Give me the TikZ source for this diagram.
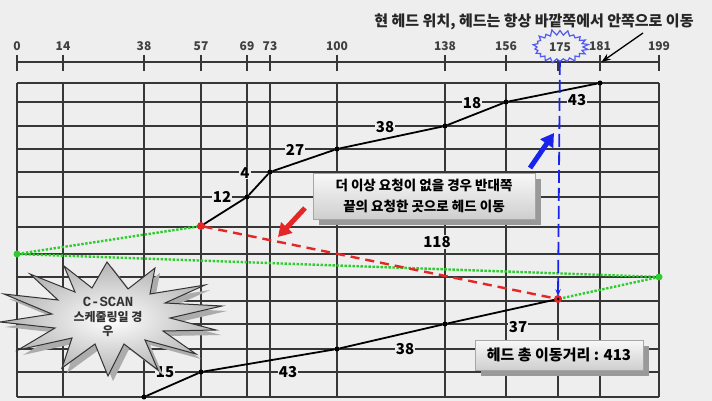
\documentclass[tikz,border=0pt]{standalone}
\usepackage{fontspec}
\setmainfont{Noto Sans CJK KR}
\newfontfamily\scanfont{Liberation Mono}
\usetikzlibrary{arrows.meta,shapes.symbols,shadows}
\definecolor{paper}{RGB}{238,238,238}
\definecolor{gridgray}{RGB}{55,55,55}
\definecolor{scangreen}{RGB}{45,205,45}
\definecolor{scanred}{RGB}{228,38,38}
\definecolor{scanblue}{RGB}{25,35,235}

\begin{document}
\begin{tikzpicture}[x=1pt,y=-1pt, every node/.style={font=\bfseries},
  gridline/.style={gridgray,line width=1.4pt},
  axtick/.style={gridgray,line width=2.2pt},
  ticklabel/.style={text=black!75,font=\fontsize{12}{12}\selectfont\bfseries},
  dist/.style={fill=paper,inner sep=1pt,font=\fontsize{15}{15}\selectfont\bfseries},
  dot/.style={circle,fill=black,inner sep=0pt,minimum size=5pt},
  note/.style={draw=gray!70,top color=gray!5,bottom color=gray!38,align=center,
    drop shadow={shadow xshift=6pt,shadow yshift=-6pt,fill=gray!80,opacity=1}},
  bigarrow/.style={line width=5pt,-{Triangle[length=13pt,width=15pt]}}]
  \useasboundingbox[fill=paper] (0,0) rectangle (712,401);
  \foreach \x/\t in {17/0,63/14,144/38,201/57,247/69,270/73,337/100,445/138,506/156,600/181,659/199} {
    \draw[gridline] (\x,83) -- (\x,397);
    \node[ticklabel] at (\x,46) {\t};
  }
  \foreach \y in {83,102,126,149,172,197,227,254,277,301,324,349,372,397}
    \draw[gridline] (17,\y) -- (659,\y);
  \draw[axtick,line width=2.6pt] (17,62) -- (659,62);
  \foreach \x/\t in {17/0,63/14,144/38,201/57,247/69,270/73,337/100,445/138,506/156,558/175,600/181,659/199}
    \draw[axtick] (\x,55) -- node[inner sep=0pt] (t\t) {} (\x,71);

  \node[dot] (a57) at (201,226) {};
  \node[dot] (a69) at (247,197) {};
  \node[dot] (a73) at (270,172) {};
  \node[dot] (a100) at (337,149) {};
  \node[dot] (a138) at (445,126) {};
  \node[dot] (a156) at (506,102) {};
  \node[dot] (a181) at (600,83) {};
  \node[dot] (b175) at (558,299) {};
  \node[dot] (b138) at (445,324) {};
  \node[dot] (b100) at (337,349) {};
  \node[dot] (b57) at (201,372) {};
  \node[dot] (b38) at (144,397) {};
  \node[dot,fill=scangreen,minimum size=7pt] (e0) at (17,254) {};
  \node[dot,fill=scangreen,minimum size=7pt] (e199) at (659,277) {};
  \draw[gridline] (b175) -- (558,397);

  \draw[scangreen,line width=2.4pt,dash pattern=on 2.4pt off 1.6pt] (a57) -- (e0) -- (e199) -- (b175);
  \draw[scanred,line width=2.4pt,dash pattern=on 9pt off 6pt] (a57) -- (b175);
  \draw[line width=1.8pt] (a57) -- (a69) -- (a73) -- (a100) -- (a138) -- (a156) -- (a181);
  \draw[line width=1.8pt] (b175) -- (b138) -- (b100) -- (b57) -- (b38);
  \node[dot,fill=scanred,minimum size=8pt] at (a57) {};
  \node[dot,fill=scanred,minimum size=8pt] at (b175) {};
  \node[dot,minimum size=3pt] at (b175) {};

  \node[dist] (d12) at (222,197) {12};
  \node[dist] (d4) at (245,173) {4};
  \node[dist] (d27) at (295,150) {27};
  \node[dist] (d38) at (385,127) {38};
  \node[dist] (d18) at (472,103) {18};
  \node[dist] (d43) at (577,100) {43};
  \node[dist] (d118) at (437,242) {118};
  \node[dist] (d37) at (518,327) {37};
  \node[dist] (e38) at (405,349) {38};
  \node[dist] (e43) at (288,372) {43};
  \node[dist] (e15) at (165,372) {15};

  \node[font=\fontsize{15}{15}\selectfont\bfseries,text=black!85] (title) at (534,22) {현 헤드 위치, 헤드는 항상 바깥쪽에서 안쪽으로 이동};
  \node[starburst,starburst points=22,starburst point height=6pt,random starburst=11,draw=scanblue!75,line width=1.2pt,fill=paper,
    minimum width=58pt,minimum height=36pt,inner sep=0pt,ticklabel] (now) at (560,47) {175};
  \draw[scanblue,line width=1.8pt,dash pattern=on 13pt off 5pt,-{Stealth[length=7pt]}] (now) -- (b175);
  \coordinate (cue) at (643,33);
  \draw[line width=1.3pt,-{Stealth[length=9pt]}] (cue) -- ([shift={(4,-2)}]t181);

  \fill[gray!65,shift={(5,5)}] (107,262) -- (128,289) -- (155,268) -- (150,294) -- (205,285) -- (165,303) -- (222,306)
    -- (170,318) -- (216,330) -- (163,331) -- (196,354) -- (145,340) -- (158,370) -- (124,344) -- (108,376) -- (95,344)
    -- (62,368) -- (72,338) -- (18,350) -- (55,328) -- (0,322) -- (52,314) -- (4,294) -- (58,300) -- (30,274) -- (75,292)
    -- (64,266) -- (92,288) -- cycle;
  \draw[gray!40!black,line width=1pt,inner color=white,outer color=gray!60] (107,262) -- (128,289) -- (155,268) -- (150,294)
    -- (205,285) -- (165,303) -- (222,306) -- (170,318) -- (216,330) -- (163,331) -- (196,354) -- (145,340) -- (158,370)
    -- (124,344) -- (108,376) -- (95,344) -- (62,368) -- (72,338) -- (18,350) -- (55,328) -- (0,322) -- (52,314) -- (4,294)
    -- (58,300) -- (30,274) -- (75,292) -- (64,266) -- (92,288) -- cycle;
  \node[align=center,font=\fontsize{12}{14.5}\selectfont\bfseries,text=black!80] (cscan) at (108,317)
    {{\scanfont\fontsize{14}{14.5}\selectfont C-SCAN}\\스케줄링일 경\\우};

  \node[note,minimum width=222pt,minimum height=46pt,font=\fontsize{13.5}{21}\selectfont\bfseries] (why) at (424,196)
    {더 이상 요청이 없을 경우 반대쪽\\끝의 요청한 곳으로 헤드 이동};
  \node[note,minimum width=168pt,minimum height=30pt,font=\fontsize{15}{15}\selectfont\bfseries] (total) at (559,355)
    {헤드 총 이동거리 : 413};

  \coordinate (rtail) at (305,208); \coordinate (rhead) at (278,237);
  \coordinate (btail) at (530,168); \coordinate (bhead) at (554,133);
  \draw[bigarrow,scanred] (rtail) -- (rhead);
  \draw[bigarrow,scanblue] (btail) -- (bhead);
\end{tikzpicture}
\end{document}
